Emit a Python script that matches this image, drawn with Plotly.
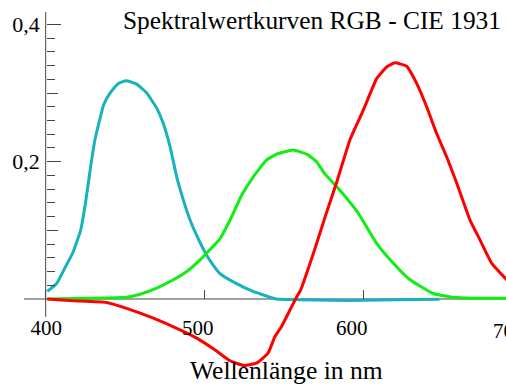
import plotly.graph_objects as go

# ---- data ----
wl_b = [401, 407, 412, 417, 422, 425, 428, 431, 434, 436.5, 440.5, 445.7, 450.6, 457.3, 463.6,
        469.9, 474, 478.3, 482.5, 486.7, 490.9, 495, 499.2, 503.5, 509.8, 518.1, 530.7, 545.4,
        560, 580, 600, 620, 648]
b_bar = [0.011, 0.023, 0.045, 0.067, 0.100, 0.139, 0.188, 0.232, 0.261, 0.283, 0.300, 0.314, 0.318,
         0.313, 0.300, 0.278, 0.256, 0.222, 0.178, 0.144, 0.115, 0.093, 0.073, 0.056, 0.037, 0.025,
         0.011, 0.000, -0.001, -0.002, -0.002, -0.001, -0.0005]

wl_g = [401, 425, 450.8, 459.4, 469.9, 480.4, 488.8, 497.2, 503.5, 509.8, 516.1, 523.4, 530.7,
        539.1, 545.4, 555.9, 564.3, 570.6, 575.5, 583.5, 596.8, 608.4, 618.9, 629.4, 644.1,
        656.7, 669.3, 692]
g_bar = [0.000, 0.001, 0.0025, 0.007, 0.016, 0.028, 0.040, 0.057, 0.072, 0.088, 0.115, 0.151, 0.178,
         0.2025, 0.211, 0.217, 0.211, 0.200, 0.183, 0.163, 0.125, 0.081, 0.052, 0.028, 0.008,
         0.0025, 0.001, 0.001]

wl_r = [401, 417.4, 438.4, 451, 467.8, 484.6, 495.1, 506.5, 516.1, 525, 533, 540, 544.3, 548.5,
        553.8, 558, 560.5, 568.5, 576, 583.5, 591.6, 600, 608.4, 614.7, 619.9, 627.3, 633.6,
        639.9, 646.2, 652.5, 658.8, 667.2, 673.5, 680.9, 692]
r_bar = [0.000, -0.0025, -0.005, -0.0136, -0.028, -0.045, -0.057, -0.074, -0.090, -0.097, -0.093,
         -0.079, -0.055, -0.040, -0.016, 0.003, 0.013, 0.066, 0.120, 0.172, 0.232, 0.275, 0.321,
         0.338, 0.344, 0.339, 0.314, 0.280, 0.241, 0.207, 0.169, 0.115, 0.086, 0.052, 0.024]

x_ticks = [400, 500, 600]
x_label_pos = [400.4, 495.8, 592.8]
x_label_text = ["400", "500", "600"]
x_cut_label = "700"
y_major = [0.2, 0.4]
y_major_text = ["0,2", "0,4"]
y_mid = [0.1, 0.3]
y_minor = [0.02, 0.04, 0.06, 0.08, 0.12, 0.14, 0.16, 0.18, 0.22, 0.24, 0.26, 0.28,
           0.32, 0.34, 0.36, 0.38]

title_text = "Spektralwertkurven RGB - CIE 1931"
xlabel_text = "Wellenlänge in nm"

# ---- layout constants ----
W, H = 506, 387
XMIN, XMAX = 371.22, 689.86
YMIN, YMAX = -0.12819, 0.43554
AX = "#444444"
FONT = "Liberation Serif"

x_pos = (400 - XMIN) / (XMAX - XMIN)     # paper x of y axis
y_pos = (0 - YMIN) / (YMAX - YMIN)       # paper y of x axis

fig = go.Figure()
fig.add_trace(go.Scatter(x=wl_b, y=b_bar, mode="lines",
                         line=dict(color="#17b3bd", width=3, shape="spline", smoothing=0.4)))
fig.add_trace(go.Scatter(x=wl_g, y=g_bar, mode="lines",
                         line=dict(color="#11ee11", width=3, shape="spline", smoothing=0.4)))
fig.add_trace(go.Scatter(x=wl_r, y=r_bar, mode="lines",
                         line=dict(color="#ff0000", width=3, shape="spline", smoothing=0.4)))

# axis lines
fig.add_shape(type="line", xref="x", yref="y", x0=386.3, x1=XMAX, y0=0, y1=0,
              line=dict(color=AX, width=1), layer="below")
fig.add_shape(type="line", xref="x", yref="y", x0=400, x1=400, y0=-0.026, y1=0.418,
              line=dict(color=AX, width=1), layer="below")

fig.update_layout(
    width=W, height=H,
    margin=dict(l=0, r=0, t=0, b=0),
    paper_bgcolor="white", plot_bgcolor="white",
    showlegend=False,
    font=dict(family=FONT, color="black"),
    xaxis=dict(range=[XMIN, XMAX], domain=[0, 1], anchor="free", position=y_pos,
               showgrid=False, zeroline=False, showline=False,
               tickmode="array", tickvals=x_ticks, showticklabels=False,
               ticks="inside", ticklen=9, tickcolor=AX, tickwidth=1),
    xaxis2=dict(range=[XMIN, XMAX], overlaying="x", anchor="free", position=y_pos,
                showgrid=False, zeroline=False, showline=False, ticks="",
                tickmode="array", tickvals=x_label_pos, ticktext=x_label_text,
                tickfont=dict(family=FONT, size=21, color="black"), ticklabelstandoff=14),
    yaxis=dict(range=[YMIN, YMAX], domain=[0, 1], anchor="free", position=x_pos,
               showgrid=False, zeroline=False, showline=False,
               tickmode="array", tickvals=y_major, ticktext=y_major_text,
               ticks="inside", ticklen=14, tickcolor=AX, tickwidth=1,
               tickfont=dict(family=FONT, size=22, color="black"), ticklabelstandoff=6,
               minor=dict(tickmode="array", tickvals=y_minor, ticks="inside", ticklen=8,
                          tickcolor=AX, tickwidth=1, showgrid=False)),
    yaxis2=dict(range=[YMIN, YMAX], overlaying="y", anchor="free", position=x_pos,
                showgrid=False, zeroline=False, showline=False,
                tickmode="array", tickvals=y_mid, showticklabels=False,
                ticks="inside", ticklen=11, tickcolor=AX, tickwidth=1),
)

# dummy trace to activate secondary axes
fig.add_trace(go.Scatter(x=[None], y=[None], xaxis="x2", yaxis="y2", showlegend=False))

fig.add_annotation(text=title_text, xref="paper", yref="paper", x=503 / W, y=1 - 20 / H,
                   xanchor="right", yanchor="middle", showarrow=False,
                   font=dict(family=FONT, size=25.4, color="black"))
fig.add_annotation(text=xlabel_text, xref="paper", yref="paper", x=286.3 / W, y=1 - 370.5 / H,
                   xanchor="center", yanchor="middle", showarrow=False,
                   font=dict(family=FONT, size=25.6, color="black"))
fig.add_annotation(text=x_cut_label, xref="paper", yref="paper", x=508.5 / W, y=1 - 330.5 / H,
                   xanchor="center", yanchor="middle", showarrow=False,
                   font=dict(family=FONT, size=21, color="black"))

fig.write_html("out.html")
